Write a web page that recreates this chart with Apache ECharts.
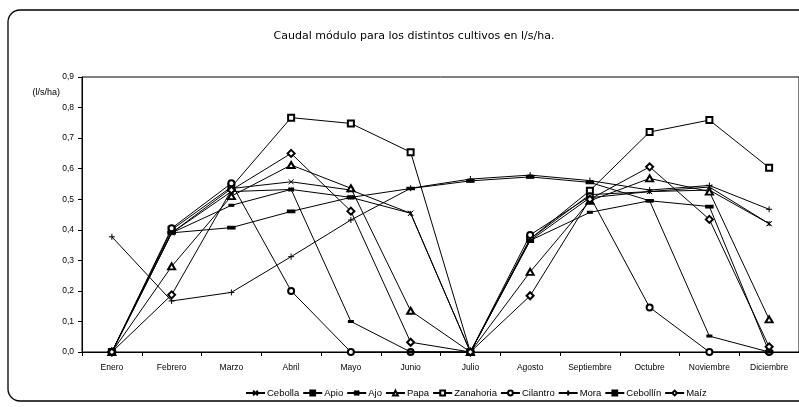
<!DOCTYPE html>
<html><head><meta charset="utf-8">
<script src="https://cdn.jsdelivr.net/npm/echarts@6/dist/echarts.min.js"></script>
<style>html,body{margin:0;padding:0;background:#fff}#c{width:799px;height:407px}</style>
</head><body><div id="c"></div>
<script>
const months = ['Enero','Febrero','Marzo','Abril','Mayo','Junio','Julio','Agosto','Septiembre','Octubre','Noviembre','Diciembre'];
const yTicks = [0,0.1,0.2,0.3,0.4,0.5,0.6,0.7,0.8,0.9];
const cebolla   = [0, 0.39, 0.535, 0.557, 0.53, 0.454, 0, 0.37, 0.515, 0.525, 0.53, 0.42];
const apio      = [0, 0.39, 0.407, 0.46, 0.506, 0.535, 0.56, 0.573, 0.555, 0.495, 0.476, 0];
const ajo       = [0, 0.39, 0.525, 0.532, 0.506, 0.454, 0, 0.365, 0.505, 0.525, 0.54, 0.42];
const papa      = [0, 0.28, 0.51, 0.612, 0.536, 0.135, 0, 0.262, 0.495, 0.568, 0.525, 0.107];
const zanahoria = [0, 0.40, 0.54, 0.767, 0.748, 0.654, 0, 0.37, 0.528, 0.72, 0.759, 0.603];
const cilantro  = [0, 0.405, 0.552, 0.2, 0, 0, 0, 0.383, 0.51, 0.146, 0, 0];
const mora      = [0.377, 0.167, 0.195, 0.312, 0.432, 0.536, 0.566, 0.579, 0.561, 0.53, 0.545, 0.467];
const cebollin  = [0, 0.39, 0.48, 0.532, 0.1, 0, 0, 0.365, 0.457, 0.495, 0.052, 0];
const maiz      = [0, 0.187, 0.53, 0.65, 0.461, 0.032, 0, 0.184, 0.5, 0.606, 0.434, 0.017];

const defs = [
  ['Cebolla', cebolla, 'path://M0,0L10,10M10,0L0,10', [5,5]],
  ['Apio', apio, 'rect', [7,3]],
  ['Ajo', ajo, 'path://M0,0L10,10M10,0L0,10M5,0L5,10', [5,5]],
  ['Papa', papa, 'emptyTriangle', [7,6]],
  ['Zanahoria', zanahoria, 'emptyRect', [6,6]],
  ['Cilantro', cilantro, 'emptyCircle', [6,6]],
  ['Mora', mora, 'path://M0,5L10,5M5,0L5,10', [6,6]],
  ['Cebollín', cebollin, 'rect', [4,2]],
  ['Maíz', maiz, 'emptyDiamond', [7,7]]
];

const chart = echarts.init(document.getElementById('c'), null, {renderer:'canvas'});
chart.setOption({
  animation:false,
  backgroundColor:'#fff',
  graphic:[{type:'rect', shape:{x:8,y:10,width:830,height:391,r:12}, style:{fill:'none',stroke:'#000',lineWidth:1.3}, z:-1}],
  title:{text:'Caudal módulo para los distintos cultivos en l/s/ha.', left:409, top:26, textAlign:'center',
    textStyle:{fontFamily:'DejaVu Sans', fontSize:11, fontWeight:'normal', color:'#000'}},
  legend:{data:defs.map(d=>d[0]), left:240, top:383, width:600, itemWidth:19, itemHeight:6, itemGap:3,
    textStyle:{fontFamily:'Liberation Sans', fontSize:9.5, color:'#000', padding:[0,0,0,-3]}},
  grid:{left:82, right:0, top:77, bottom:55, show:true, borderColor:'#000', borderWidth:1},
  xAxis:{type:'category', data:months, boundaryGap:true,
    axisLine:{lineStyle:{color:'#000',width:1}}, axisTick:{show:true, length:4, lineStyle:{color:'#000'}},
    axisLabel:{interval:0, color:'#000', fontFamily:'Liberation Sans', fontSize:8.5, margin:11}},
  yAxis:{type:'value', min:0, max:0.9, interval:0.1, name:'(l/s/ha)', nameLocation:'end', nameGap:0,
    nameTextStyle:{color:'#000', fontFamily:'Liberation Sans', fontSize:9, align:'right', padding:[0,22,-20,0]},
    axisLine:{show:true, lineStyle:{color:'#000'}}, axisTick:{show:true, length:4, lineStyle:{color:'#000'}},
    splitLine:{show:false},
    axisLabel:{color:'#000', fontFamily:'Liberation Sans', fontSize:8.5, margin:8,
      formatter:v=>{const t=yTicks.find(x=>Math.abs(x-v)<1e-6); return (t!==undefined?t:v).toFixed(1).replace('.',',');}}},
  series:defs.map(d=>({name:d[0], type:'line', data:d[1], symbol:d[2], symbolSize:d[3],
    lineStyle:{color:'#000', width:1}, itemStyle:{color:'#000', borderColor:'#000', borderWidth:1},
    emphasis:{disabled:true}}))
});
</script></body></html>
